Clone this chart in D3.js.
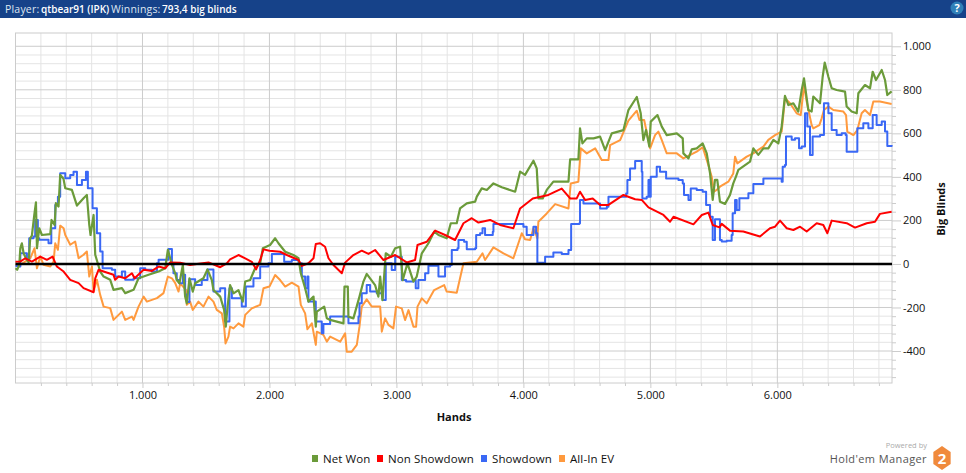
<!DOCTYPE html>
<html>
<head>
<meta charset="utf-8">
<style>
	html, body { margin: 0; padding: 0; background: #fff; overflow: hidden; }
	text { font-family: "Open Sans", sans-serif; }
</style>
<script src="https://cdn.jsdelivr.net/npm/d3@7"></script>
</head>
<body>
<svg id="graph" width="966" height="473"></svg>
<script>
// values: hands played / big blinds won
const netWonHands = [0,13,30,38,50,64,82,103,116,129,148,161,169,187,208,274,284,308,318,339,352,378,392,444,484,536,562,581,591,615,628,667,694,746,772,838,864,930,969,1048,1127,1179,1200,1232,1258,1270,1291,1318,1336,1349,1370,1396,1415,1480,1512,1546,1559,1612,1643,1656,1670,1690,1717,1756,1790,1809,1848,1887,1927,1948,2005,2045,2071,2124,2189,2229,2247,2281,2307,2347,2365,2373,2431,2452,2478,2583,2591,2617,2622,2661,2709,2740,2766,2832,2858,2872,2890,2916,2956,2990,3029,3050,3087,3134,3160,3200,3252,3297,3331,3396,3428,3475,3501,3554,3620,3633,3672,3712,3764,3830,3935,3974,4013,4079,4105,4118,4152,4184,4236,4355,4368,4433,4446,4465,4499,4552,4604,4644,4696,4788,4827,4893,4924,4945,4966,4992,5003,5056,5090,5129,5208,5255,5260,5300,5326,5365,5412,5444,5470,5491,5509,5527,5548,5588,5627,5653,5674,5693,5785,5811,5850,5890,5929,5969,6008,6034,6060,6087,6126,6165,6192,6210,6244,6270,6283,6336,6357,6373,6402,6428,6467,6533,6546,6585,6625,6638,6690,6730,6751,6777,6822,6848,6866,6900];
const netWonBB = [-20,-27,-4,72,95,49,26,8,118,130,225,283,72,164,133,137,202,179,279,264,409,391,348,340,268,302,317,179,133,225,42,-35,-58,-73,-119,-111,-134,-119,-66,-50,-35,-20,65,-4,-43,-74,-89,-5,-150,-181,-66,-127,-89,-66,-25,-74,-120,-150,-211,-288,-196,-97,-135,-120,-173,-81,-74,-20,3,72,87,118,95,56,41,26,-43,-112,-173,-150,-288,-219,-196,-250,-257,-273,-104,-104,-242,-250,-150,-81,-46,-97,-150,-58,-166,49,33,72,79,-74,3,-81,-58,49,95,148,133,118,187,187,255,278,286,309,347,340,370,352,332,424,409,474,439,301,301,340,378,378,480,480,623,554,577,577,585,523,600,615,707,767,692,569,615,539,654,684,631,592,600,577,508,485,526,531,554,508,416,294,386,386,286,276,317,370,401,432,470,531,501,531,531,570,554,631,772,730,738,700,799,853,707,700,769,738,860,925,860,807,799,792,723,700,692,784,822,807,883,845,891,845,776,793];

const nonShowdownHands = [0,37,77,129,195,247,292,326,379,431,497,536,615,628,654,694,772,785,812,864,917,938,1009,1074,1127,1179,1218,1297,1375,1428,1520,1612,1664,1690,1756,1809,1861,1895,1927,1953,2000,2084,2137,2229,2255,2307,2347,2365,2399,2438,2465,2504,2570,2596,2661,2727,2780,2832,2898,2990,3081,3147,3166,3239,3305,3383,3462,3528,3593,3646,3738,3816,3921,3974,4074,4197,4302,4368,4420,4446,4486,4546,4604,4670,4788,4880,4932,4985,5103,5155,5182,5339,5405,5457,5491,5544,5562,5627,5732,5863,5942,5982,6021,6074,6126,6179,6231,6310,6362,6394,6428,6546,6612,6704,6769,6808,6900];
const nonShowdownBB = [10,11,26,11,34,19,34,-12,-35,-73,-88,-111,-130,-66,-27,-35,-50,-73,-58,-66,-43,-66,-27,-32,-12,-20,7,6,-5,0,7,-15,3,21,41,26,10,-25,18,67,61,56,41,18,-9,3,26,92,95,79,26,-5,-43,6,41,61,46,64,18,41,7,18,87,102,153,133,110,187,210,190,202,179,164,255,301,317,346,301,301,332,294,301,271,271,317,297,294,260,225,194,217,182,225,236,179,168,184,153,149,126,164,171,199,164,156,171,149,187,179,141,199,187,167,187,194,230,240];

const showdownHands = [0,24,38,90,108,142,155,176,187,260,282,313,334,352,392,431,457,484,523,555,570,602,607,628,641,667,686,759,785,838,864,930,982,1022,1074,1114,1127,1192,1205,1232,1244,1270,1291,1318,1336,1349,1370,1415,1467,1512,1559,1612,1651,1685,1704,1769,1782,1801,1814,1874,1927,1992,2019,2097,2116,2176,2229,2255,2281,2299,2307,2360,2365,2412,2425,2478,2596,2622,2701,2709,2727,2766,2793,2845,2892,2916,2963,2990,3042,3076,3134,3152,3173,3226,3252,3318,3331,3383,3423,3436,3481,3489,3533,3554,3620,3628,3659,3678,3698,3759,3764,4000,4026,4079,4100,4110,4152,4171,4236,4302,4355,4376,4441,4446,4473,4551,4604,4657,4670,4775,4809,4819,4840,4880,4906,4932,4937,4971,4985,4992,5003,5037,5050,5076,5124,5221,5255,5265,5300,5318,5365,5412,5439,5470,5491,5509,5527,5548,5562,5601,5640,5648,5667,5680,5701,5772,5811,5890,6034,6042,6060,6068,6113,6139,6171,6192,6218,6236,6257,6278,6336,6367,6402,6428,6467,6507,6538,6546,6625,6630,6677,6717,6751,6782,6822,6848,6866,6900];
const showdownBB = [-10,-12,49,19,118,126,202,118,111,95,164,271,309,417,394,409,424,363,386,424,348,348,256,256,141,57,-20,-27,-58,-35,-73,-66,-20,-27,-35,3,19,19,69,-4,-43,-74,-89,-50,-140,-175,-70,-97,-74,-25,-127,-112,-265,-112,-158,-158,-196,-196,-104,-66,-12,3,46,46,10,18,3,-58,-112,-58,-173,-173,-265,-319,-276,-242,-242,-273,-242,-181,-135,-97,-127,-135,-166,3,-28,33,-74,-81,-74,-112,-74,-43,-8,-8,-58,-12,-5,64,72,110,102,67,72,133,141,164,133,148,183,171,133,171,141,6,6,33,52,46,64,184,187,294,278,278,255,263,309,309,324,386,439,473,473,424,301,309,386,309,401,401,447,424,393,386,370,317,294,347,340,332,271,217,110,205,205,110,103,106,133,233,294,248,302,325,367,393,378,447,455,585,570,577,531,539,692,631,501,585,592,738,692,615,592,600,592,516,516,623,646,623,684,638,654,608,542,547];

const allInEvHands = [0,37,116,150,169,195,221,274,300,313,334,352,379,392,431,470,497,536,562,581,602,615,641,667,694,746,772,838,864,917,930,969,1009,1035,1114,1166,1200,1232,1258,1284,1297,1344,1349,1375,1396,1441,1480,1520,1559,1585,1625,1643,1654,1677,1690,1717,1756,1795,1809,1861,1927,1953,2000,2045,2084,2124,2176,2229,2247,2281,2299,2334,2365,2373,2425,2452,2478,2557,2596,2609,2648,2688,2709,2727,2766,2806,2872,2885,2911,2937,2976,2997,3042,3068,3095,3134,3155,3166,3200,3239,3297,3376,3396,3475,3501,3528,3633,3678,3698,3764,3843,3921,3987,4013,4053,4079,4110,4118,4184,4250,4355,4373,4433,4452,4499,4565,4617,4670,4683,4762,4827,4893,4914,4951,4998,5037,5063,5090,5129,5208,5260,5365,5412,5457,5483,5501,5522,5548,5614,5653,5667,5685,5759,5811,5850,5890,5929,5982,6034,6060,6100,6152,6184,6210,6231,6270,6283,6331,6349,6367,6402,6441,6520,6541,6551,6599,6630,6664,6690,6730,6756,6808,6900];
const allInEvBB = [-5,-4,26,72,-20,34,-4,-12,11,95,65,176,164,133,88,103,26,42,57,-58,-12,-127,-73,-142,-196,-203,-257,-219,-257,-242,-257,-196,-150,-173,-157,-134,-58,-66,-88,-127,-89,-120,-188,-173,-211,-173,-196,-150,-173,-211,-227,-288,-365,-334,-288,-296,-273,-288,-234,-204,-188,-112,-104,-51,-74,-104,-86,-104,-188,-227,-300,-273,-372,-311,-326,-357,-334,-357,-319,-403,-403,-372,-288,-196,-163,-196,-196,-311,-250,-280,-296,-196,-204,-258,-212,-288,-288,-196,-158,-181,-120,-97,-127,-132,-66,3,10,49,18,76,49,26,141,113,110,164,118,194,232,275,255,370,378,531,508,531,477,477,546,569,658,704,661,661,531,592,608,569,508,508,485,516,536,454,401,332,340,355,378,416,493,462,493,508,524,539,570,592,608,761,738,692,684,822,746,638,623,638,669,707,723,707,700,684,608,592,615,692,707,684,746,746,735];

const seriesNames = ["Net Won", "Non Showdown", "Showdown", "All-In EV"];
const xMajorTicks = [1000, 2000, 3000, 4000, 5000, 6000];
const yMajorTicks = [-400, -200, 0, 200, 400, 600, 800, 1000];

const colors = {
	"Net Won": "#6b9b3a",
	"Non Showdown": "#ff0000",
	"Showdown": "#3a68f5",
	"All-In EV": "#ff9a3e"
};

const svg = d3.select("#graph");

const x = d3.scaleLinear().domain([0, 6903]).range([15.5, 892]);
const y = d3.scaleLinear().domain([-547, 1061]).range([383, 33]);

// dots for thousands, the way the app prints numbers
const fmt = d3.formatLocale({decimal: ",", thousands: ".", grouping: [3], currency: ["", ""], minus: "-"}).format(",");

// minor values: every 200 hands, every 40 big blinds
const xMinor = d3.range(200, 6900, 200).filter(d => d % 1000 != 0);
const yMinor = d3.range(-520, 1000, 40).filter(d => d % 200 != 0);

// header bar
svg.append("rect").attr("x", 0).attr("y", 0).attr("width", 966).attr("height", 18).attr("fill", "#164289");
const headerText = function(xPos, label, bold) {
	svg.append("text").attr("x", xPos).attr("y", 12.5)
		.style("font-size", bold ? "10px" : "10.5px")
		.style("font-weight", bold ? "600" : "400")
		.style("letter-spacing", bold ? "0" : "0.2px")
		.attr("fill", bold ? "#fff" : "#dfe6f2")
		.text(label);
};
headerText(5, "Player:", false);
headerText(41, "qtbear91 (IPK)", true);
headerText(111, "Winnings:", false);
headerText(162, "793,4 big blinds", true);

svg.append("circle").attr("cx", 957).attr("cy", 8).attr("r", 6.5).attr("fill", "#2f80b8");
svg.append("text").attr("x", 957).attr("y", 12).attr("text-anchor", "middle")
	.style("font-size", "11px").style("font-weight", "700").attr("fill", "#fff").text("?");

// grid
const grid = svg.append("g");
grid.selectAll(".xminor").data(xMinor).enter().append("line")
	.attr("x1", d => x(d)).attr("x2", d => x(d)).attr("y1", 33).attr("y2", 383)
	.attr("stroke", "#e4e4e4");
grid.selectAll(".yminor").data(yMinor).enter().append("line")
	.attr("x1", 15.5).attr("x2", 892).attr("y1", d => y(d)).attr("y2", d => y(d))
	.attr("stroke", "#e4e4e4");
grid.selectAll(".xmajor").data(xMajorTicks).enter().append("line")
	.attr("x1", d => x(d)).attr("x2", d => x(d)).attr("y1", 33).attr("y2", 383)
	.attr("stroke", "#cccccc");
grid.selectAll(".ymajor").data(yMajorTicks).enter().append("line")
	.attr("x1", 15.5).attr("x2", 892).attr("y1", d => y(d)).attr("y2", d => y(d))
	.attr("stroke", "#cccccc");
svg.append("rect").attr("x", 15.5).attr("y", 33).attr("width", 876.5).attr("height", 350)
	.attr("fill", "none").attr("stroke", "#cccccc");

// axes
const xAxis = d3.axisBottom(x).tickValues(xMajorTicks).tickFormat(fmt).tickSize(5).tickPadding(3);
const yAxis = d3.axisRight(y).tickValues(yMajorTicks).tickFormat(fmt).tickSize(9).tickPadding(2);
const xMinorAxis = d3.axisBottom(x).tickValues(xMinor).tickFormat("").tickSize(3);
const yMinorAxis = d3.axisRight(y).tickValues(yMinor).tickFormat("").tickSize(4);

svg.append("g").attr("transform", "translate(0, 383)").call(xMinorAxis);
svg.append("g").attr("transform", "translate(892, 0)").call(yMinorAxis);
svg.append("g").attr("class", "xaxis").attr("transform", "translate(0, 383)").call(xAxis);
svg.append("g").attr("class", "yaxis").attr("transform", "translate(892, 0)").call(yAxis);
svg.selectAll(".domain").remove();
svg.selectAll(".tick line").attr("stroke", "#cccccc");
svg.selectAll(".tick text").attr("fill", "#111").style("font-size", "11px").style("font-family", '"Open Sans", sans-serif');

// series, orange at the back and red over the green. showdown has long flat
// runs with jumps so it gets steps
const lineGen = d3.line().x(d => x(d[0])).y(d => y(d[1]));
const drawSeries = function(hands, bb, name, width, curve) {
	svg.append("path")
		.datum(d3.zip(hands, bb))
		.attr("fill", "none")
		.attr("stroke", colors[name])
		.attr("stroke-width", width)
		.attr("stroke-linejoin", "round")
		.attr("d", lineGen.curve(curve));
};
drawSeries(allInEvHands, allInEvBB, "All-In EV", 2, d3.curveLinear);
drawSeries(showdownHands, showdownBB, "Showdown", 2, d3.curveStepAfter);
drawSeries(netWonHands, netWonBB, "Net Won", 2.2, d3.curveLinear);
drawSeries(nonShowdownHands, nonShowdownBB, "Non Showdown", 2, d3.curveLinear);

// zero line
svg.append("line").attr("x1", 15.5).attr("x2", 892).attr("y1", y(0)).attr("y2", y(0))
	.attr("stroke", "#000").attr("stroke-width", 2.5);

// axis titles
svg.append("text").attr("x", 454).attr("y", 421).attr("text-anchor", "middle")
	.style("font-size", "11px").style("font-weight", "700").attr("fill", "#111").text("Hands");
svg.append("text").attr("transform", "translate(945, 209) rotate(-90)").attr("text-anchor", "middle")
	.style("font-size", "11px").style("font-weight", "700").attr("fill", "#111").text("Big Blinds");

// legend
const legendX = [312, 377, 481, 559];
const legend = svg.selectAll(".legend").data(seriesNames).enter().append("g")
	.attr("transform", (d, i) => "translate(" + legendX[i] + ", 455)");
legend.append("rect").attr("width", 6).attr("height", 7).attr("fill", d => colors[d]);
legend.append("text").attr("x", 11).attr("y", 8).style("font-size", "11.5px").style("letter-spacing", "0.1px").attr("fill", "#111").text(d => d);

// logo
svg.append("text").attr("x", 927).attr("y", 448).attr("text-anchor", "end")
	.style("font-size", "7.5px").attr("fill", "#aaa").text("Powered by");
svg.append("text").attr("x", 927).attr("y", 463).attr("text-anchor", "end")
	.style("font-size", "11px").style("letter-spacing", "0.4px").attr("fill", "#555").text("Hold'em Manager");
const hexPath = d3.line()(d3.range(6).map(i => {
	let a = Math.PI / 3 * i - Math.PI / 2;
	return [942 + 10 * Math.cos(a), 458 + 12 * Math.sin(a)];
})) + "Z";
svg.append("path").attr("d", hexPath).attr("fill", "#f08a3c");
svg.append("text").attr("x", 942).attr("y", 464).attr("text-anchor", "middle")
	.style("font-size", "15px").style("font-weight", "700").attr("fill", "#fff").text("2");
</script>
</body>
</html>
